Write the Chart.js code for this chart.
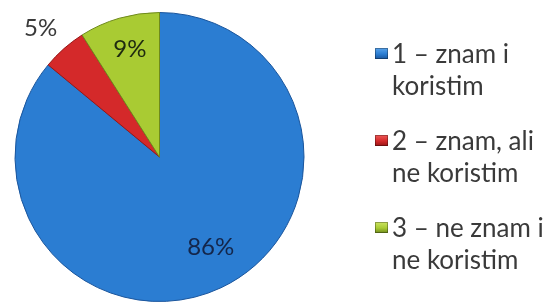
<!DOCTYPE html>
<html>
<head>
<meta charset="utf-8">
<script src="https://cdn.jsdelivr.net/npm/chart.js@4/dist/chart.umd.min.js"></script>
<style>
  html, body { margin: 0; padding: 0; background: #fff; }
  #wrap { position: relative; width: 552px; height: 304px; overflow: hidden; }
  #legend {
    position: absolute; left: 375px; top: 37px;
    font-family: Lato, 'Open Sans', sans-serif; font-size: 26px;
    color: #3a3a3a; line-height: 32px; white-space: nowrap;
  }
  .item { position: relative; padding-left: 17px; margin-bottom: 23px; }
  .box {
    position: absolute; left: 0; top: 11px; width: 13px; height: 11px;
    box-shadow: inset 0 0 0 1px rgba(0,0,0,0.3);
  }
</style>
</head>
<body>
<div id="wrap">
  <canvas id="c" width="552" height="304"></canvas>
  <div id="legend"></div>
</div>
<script>
(function() {
  'use strict';

  var labels = [['1 – znam i', 'koristim'], ['2 – znam, ali', 'ne koristim'], ['3 – ne znam i', 'ne koristim']];
  var values = [86, 5, 9];

  var COLORS = {
    base: ['#2b7dd2', '#d4292a', '#a9cb33'],
    edge: ['#1a559c', '#961516', '#6f8a1c'],
    light: ['#5aa4ec', '#ee5a58', '#cde463']
  };
  // where each percent label sits: fraction of radius, angle shift (deg) from slice middle
  var LABEL_POS = [{ r: 0.72, da: -4.3 }, { r: 1.21, da: -1.4 }, { r: 0.77, da: 0.8 }];

  function sliceFill(ctx) {
    var chart = ctx.chart;
    var i = ctx.dataIndex;
    var arc = chart.getDatasetMeta(0).data[i];
    if (!arc || !arc.outerRadius) return COLORS.base[i];
    var g = chart.ctx.createRadialGradient(arc.x, arc.y, 0, arc.x, arc.y, arc.outerRadius);
    g.addColorStop(0, COLORS.base[i]);
    g.addColorStop(0.93, COLORS.base[i]);
    g.addColorStop(1, COLORS.edge[i]);
    return g;
  }

  var pctLabels = {
    id: 'pctLabels',
    afterDatasetsDraw: function(chart) {
      var ctx = chart.ctx;
      var meta = chart.getDatasetMeta(0);
      ctx.save();
      ctx.font = '24px Lato, "Open Sans", sans-serif';
      ctx.textAlign = 'center';
      ctx.textBaseline = 'middle';
      meta.data.forEach(function(arc, i) {
        var p = arc.getProps(['x', 'y', 'startAngle', 'endAngle', 'outerRadius'], true);
        var a = (p.startAngle + p.endAngle) / 2 + LABEL_POS[i].da * Math.PI / 180;
        var r = p.outerRadius * LABEL_POS[i].r;
        ctx.fillStyle = i === 0 ? '#14264a' : (i === 1 ? '#3a3a3a' : '#1e2a10');
        ctx.fillText(values[i] + '%', p.x + Math.cos(a) * r, p.y + Math.sin(a) * r);
      });
      ctx.restore();
    }
  };

  new Chart(document.getElementById('c').getContext('2d'), {
    type: 'pie',
    data: {
      labels: labels,
      datasets: [{
        data: values,
        backgroundColor: sliceFill,
        borderColor: COLORS.edge,
        borderWidth: 1
      }]
    },
    options: {
      responsive: false,
      animation: false,
      layout: { padding: { left: 14, right: 247, top: 12, bottom: 2 } },
      plugins: { legend: { display: false }, tooltip: { enabled: false } }
    },
    plugins: [pctLabels]
  });

  var legend = document.getElementById('legend');
  labels.forEach(function(lines, i) {
    var item = document.createElement('div');
    item.className = 'item';
    var box = document.createElement('span');
    box.className = 'box';
    box.style.background = 'linear-gradient(180deg,' + COLORS.light[i] + ',' + COLORS.base[i] + ' 55%,' + COLORS.edge[i] + ')';
    item.appendChild(box);
    lines.forEach(function(t) {
      var d = document.createElement('div');
      d.textContent = t;
      item.appendChild(d);
    });
    legend.appendChild(item);
  });
})();
</script>
</body>
</html>
